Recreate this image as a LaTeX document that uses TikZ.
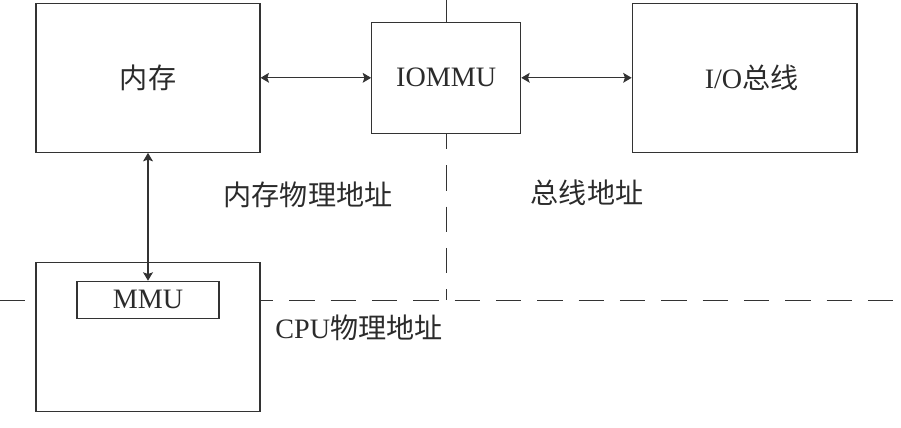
\documentclass[tikz,border=0pt]{standalone}
\usepackage{fontspec}
\setmainfont{Liberation Serif}
\newfontfamily\cjk{Noto Sans CJK SC}
\usetikzlibrary{arrows.meta, positioning, backgrounds}
\definecolor{cline}{HTML}{333333}
\definecolor{ctext}{HTML}{2B2B2B}
\tikzset{
  every picture/.style={font=\fontsize{20pt}{24pt}\selectfont, line width=0.8pt},
  box/.style={draw=cline, fill=white, text=ctext, align=center, inner sep=0pt},
  link/.style={{Stealth[length=6pt, width=7pt, inset=1.2pt]}-{Stealth[length=6pt, width=7pt, inset=1.2pt]}, draw=cline},
  divider/.style={draw=cline, dash pattern=on 18.1pt off 11.3pt},
  label/.style={text=ctext, inner sep=0pt},
}

\begin{document}
\begin{tikzpicture}[
  unit/.style={box, minimum width=5.6cm, minimum height=3.725cm},
]
  \useasboundingbox (0,0) rectangle (22.525,10.675);
  \coordinate (lft) at (0,0);
  \coordinate (rgt) at (22.525,0);
  \coordinate (top) at (0,10.675);

  \node[unit] (mem) at (3.7,8.73) {{\cjk 内存}};
  \node[box, minimum width=3.725cm, minimum height=2.765cm] (iommu) at (11.155,8.73) {IOMMU};
  \node[unit, minimum width=5.62cm] (iobus) at (18.615,8.73) {\hspace*{0.35cm}I/O{\cjk 总线}};
  \node[unit] (cpu) at (3.7,2.245) {};
  \node[box, minimum width=3.55cm, minimum height=0.925cm] (mmu) at (3.7,3.18) {MMU};

  \node[label] (memaddr) at (7.7,5.8) {{\cjk 内存物理地址}};
  \node[label] (busaddr) at (14.675,5.86) {{\cjk 总线地址}};
  \node[label] (cpuaddr) at (8.975,2.49) {CPU{\cjk 物理地址}};

  \draw[link] (mem.east) -- (iommu.west);
  \draw[link] (iommu.east) -- (iobus.west);
  \draw[link] (mem.south) -- (mmu.north);

  \begin{scope}[on background layer]
    \draw[divider] (lft |- mmu) -- (rgt |- mmu);
    \draw[divider] (iommu |- top) -- (iommu |- mmu);
  \end{scope}
\end{tikzpicture}
\end{document}
